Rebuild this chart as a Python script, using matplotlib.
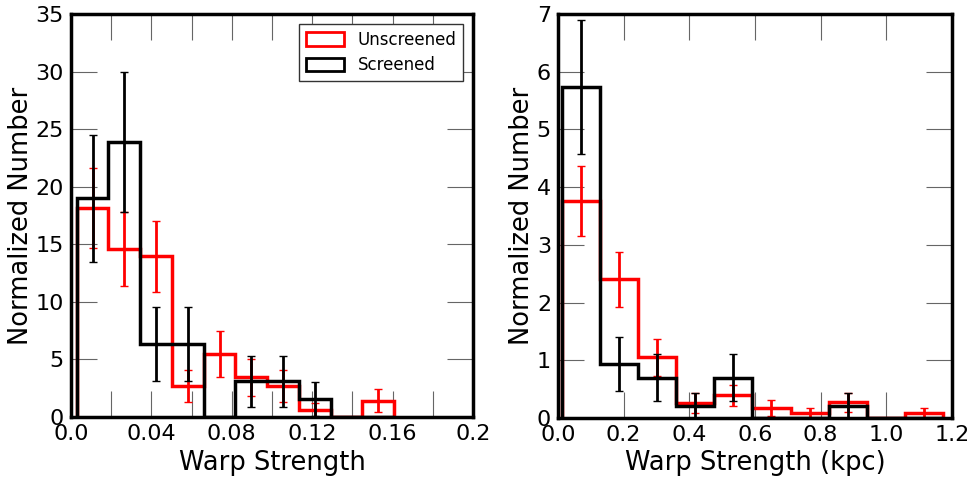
import numpy as np
import matplotlib
matplotlib.use("Agg")
import matplotlib.pyplot as plt
import matplotlib.patches as mpatches

# ---- Left panel: Warp Strength ----
left_start = 0.0028
left_width = 0.0158
left_unscreened = [18.15, 14.6, 13.95, 2.7, 5.5, 3.45, 2.7, 0.6, 0.0, 1.4]
left_unscreened_err = [3.5, 3.2, 3.1, 1.4, 2.0, 1.6, 1.4, 0.6, 0.0, 1.0]
left_screened = [19.0, 23.9, 6.35, 6.35, 0.0, 3.1, 3.1, 1.55, 0.0, 0.0]
left_screened_err = [5.5, 6.1, 3.2, 3.2, 0.0, 2.2, 2.2, 1.5, 0.0, 0.0]
left_xticks = [0.0, 0.02, 0.04, 0.06, 0.08, 0.10, 0.12, 0.14, 0.16, 0.18, 0.2]
left_xticklabels = ['0.0', '', '0.04', '', '0.08', '', '0.12', '', '0.16', '', '0.2']
left_yticks = [0, 5, 10, 15, 20, 25, 30, 35]

# ---- Right panel: Warp Strength (kpc) ----
right_start = 0.0122
right_width = 0.116
right_unscreened = [3.76, 2.4, 1.05, 0.26, 0.39, 0.18, 0.09, 0.27, 0.0, 0.09]
right_unscreened_err = [0.6, 0.48, 0.32, 0.17, 0.18, 0.14, 0.09, 0.17, 0.0, 0.09]
right_screened = [5.73, 0.93, 0.70, 0.21, 0.70, 0.0, 0.0, 0.21, 0.0, 0.0]
right_screened_err = [1.16, 0.47, 0.41, 0.23, 0.41, 0.0, 0.0, 0.23, 0.0, 0.0]
right_xticks = [0.0, 0.2, 0.4, 0.6, 0.8, 1.0, 1.2]
right_xticklabels = ['0.0', '0.2', '0.4', '0.6', '0.8', '1.0', '1.2']
right_yticks = [0, 1, 2, 3, 4, 5, 6, 7]

plt.rcParams['font.family'] = ['DejaVu Sans']

fig = plt.figure(figsize=(9.72, 4.79), dpi=100)
axL = fig.add_axes([71/972, 1 - 417/479, 402/972, 403/479])
axR = fig.add_axes([558/972, 1 - 418/479, 394/972, 404/479])


def draw(ax, start, width, unscr, unscr_err, scr, scr_err):
    n = len(unscr)
    edges = start + width * np.arange(n + 1)
    centers = edges[:-1] + width / 2
    ax.stairs(unscr, edges, color='red', lw=2.5, baseline=0, zorder=3)
    ax.stairs(scr, edges, color='black', lw=2.5, baseline=0, zorder=4)
    u = np.array(unscr); ue = np.array(unscr_err)
    s = np.array(scr); se = np.array(scr_err)
    mu = u > 0
    ms = s > 0
    ax.errorbar(centers[mu], u[mu], yerr=ue[mu], fmt='none', ecolor='red',
                elinewidth=2, capsize=3, capthick=1, zorder=3)
    ax.errorbar(centers[ms], s[ms], yerr=se[ms], fmt='none', ecolor='black',
                elinewidth=2, capsize=3, capthick=1, zorder=4)


draw(axL, left_start, left_width, left_unscreened, left_unscreened_err,
     left_screened, left_screened_err)
draw(axR, right_start, right_width, right_unscreened, right_unscreened_err,
     right_screened, right_screened_err)

axL.set_xlim(0, 0.2)
axL.set_ylim(0, 35)
axL.set_xticks(left_xticks)
axL.set_xticklabels(left_xticklabels)
axL.set_yticks(left_yticks)
axL.set_yticklabels([str(v) for v in left_yticks])

axR.set_xlim(0, 1.2)
axR.set_ylim(0, 7)
axR.set_xticks(right_xticks)
axR.set_xticklabels(right_xticklabels)
axR.set_yticks(right_yticks)
axR.set_yticklabels([str(v) for v in right_yticks])

for ax in (axL, axR):
    ax.tick_params(direction='in', length=19, width=0.8, color='0.4',
                   top=True, right=True, labelsize=16, pad=5)
    for sp in ax.spines.values():
        sp.set_linewidth(2.5)
        sp.set_zorder(6)
    ax.set_ylabel('Normalized Number', fontsize=18.5, labelpad=1)

axL.set_xlabel('Warp Strength', fontsize=18.5, labelpad=4)
axR.set_xlabel('Warp Strength (kpc)', fontsize=18.5, labelpad=4)

handles = [mpatches.Patch(facecolor='none', edgecolor='red', lw=2, label='Unscreened'),
           mpatches.Patch(facecolor='none', edgecolor='black', lw=2, label='Screened')]
leg = axL.legend(handles=handles, loc='upper right', fontsize=12, fancybox=False,
                 framealpha=1, edgecolor='0.2', handlelength=2.3, handleheight=0.85,
                 borderaxespad=0.6, labelspacing=0.45)
leg.get_frame().set_linewidth(1)

fig.savefig('out.png', dpi=100)
